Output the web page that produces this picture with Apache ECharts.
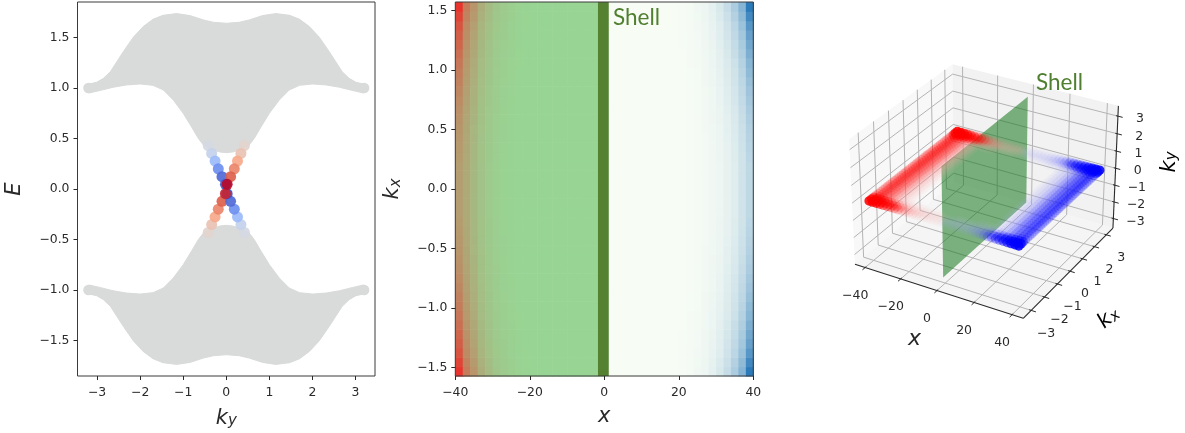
<!DOCTYPE html>
<html><head><meta charset="utf-8">
<style>html,body{margin:0;padding:0;background:#fff}#c{width:1185px;height:433px;filter:blur(.45px)}</style>
<script src="https://cdn.jsdelivr.net/npm/echarts@6/dist/echarts.min.js"></script>
</head><body><div id="c"></div>
<script>
// ---------- panel 1: band structure
const kyTicks = [-3,-2,-1,0,1,2,3];
const eTicks = [-1.5,-1,-0.5,0,0.5,1,1.5];
const upperTopK = [-3.19,-3.01,-2.85,-2.69,-2.54,-2.39,-2.16,-1.93,-1.70,-1.47,-1.15,-0.84,-0.53,-0.30,0,0.30,0.53,0.84,1.15,1.47,1.70,1.93,2.16,2.39,2.54,2.69,2.85,3.01,3.19];
const upperTopE = [1.04,1.057,1.097,1.163,1.262,1.361,1.503,1.609,1.682,1.721,1.738,1.718,1.675,1.652,1.642,1.652,1.675,1.718,1.738,1.721,1.682,1.609,1.503,1.361,1.262,1.163,1.097,1.057,1.04];
const upperLowK = [3.19,2.94,2.63,2.32,2.0,1.70,1.46,1.23,1.0,0.81,0.65,0.53,0.30,0.15,0,-0.15,-0.30,-0.53,-0.65,-0.81,-1.0,-1.23,-1.46,-1.70,-2.0,-2.32,-2.63,-2.94,-3.19];
const upperLowE = [0.951,0.975,1.008,1.031,1.041,1.027,0.981,0.882,0.75,0.618,0.502,0.436,0.387,0.367,0.36,0.367,0.387,0.436,0.502,0.618,0.75,0.882,0.981,1.027,1.041,1.031,1.008,0.975,0.951];
const lowerTopE = [-0.951,-0.975,-1.008,-1.031,-1.041,-1.027,-0.981,-0.882,-0.75,-0.618,-0.502,-0.436,-0.387,-0.367,-0.36,-0.367,-0.387,-0.436,-0.502,-0.618,-0.75,-0.882,-0.981,-1.027,-1.041,-1.031,-1.008,-0.975,-0.951];
const lowerBotE = [-1.04,-1.057,-1.097,-1.163,-1.262,-1.361,-1.503,-1.609,-1.682,-1.721,-1.738,-1.718,-1.675,-1.652,-1.642,-1.652,-1.675,-1.718,-1.738,-1.721,-1.682,-1.609,-1.503,-1.361,-1.262,-1.163,-1.097,-1.057,-1.04];
const bulkDotK = [-3.2,3.2,-3.2,3.2,-0.51,-0.59,-0.67,-0.75,0.51,0.59,0.67,0.75,-0.51,-0.59,-0.67,-0.75,0.51,0.59,0.67,0.75];
const bulkDotE = [1,1,-1,-1,0.507,0.585,0.66,0.74,0.507,0.585,0.66,0.74,-0.507,-0.585,-0.66,-0.74,-0.507,-0.585,-0.66,-0.74];
const edgeK = [-0.42,0.42,-0.34,0.34,-0.42,0.42,-0.34,0.34,-0.26,0.26,-0.26,0.26,-0.186,0.186,-0.186,0.186,-0.10,0.10,-0.10,0.10,-0.02,0.02,-0.02,0.02];
const edgeE = [0.43,0.43,0.353,0.353,-0.43,-0.43,-0.353,-0.353,0.277,0.277,-0.277,-0.277,0.2,0.2,-0.2,-0.2,0.122,0.122,-0.122,-0.122,0.046,-0.046,-0.046,0.046];
const edgeWeight = [0.47,0.53,0.42,0.58,0.53,0.47,0.58,0.42,0.3,0.66,0.66,0.3,0.18,0.75,0.75,0.18,0.08,0.84,0.84,0.08,0.04,0.01,0.94,0.99];

// ---------- panel 2: density map
const xMapTicks = [-40,-20,0,20,40];
const kxMapTicks = [-1.5,-1,-0.5,0,0.5,1,1.5];
const shellSpan = [-1.7,1.2];
const heatLeftEdge = [1,0.55,0.4,0.24,0.16,0.1,0.07,0.04,0.02,0.01];
const heatLeftMid = [0.35,0.27,0.18,0.11,0.07,0.04,0.02,0.01,0,0];
const heatRightEdge = [1,0.56,0.37,0.24,0.15,0.09,0.05,0.03,0.015,0.005];
const heatRightMid = [0.28,0.19,0.12,0.08,0.05,0.03,0.02,0.01,0.005,0];
const rowEdgeMix = [0,0,0,0.02,0.03,0.05,0.07,0.1,0.13,0.17,0.21,0.26,0.31,0.37,0.44,0.52,0.6,0.7,0.85,1];

// ---------- panel 3: 3D density
const xTicks3 = [-40,-20,0,20,40];
const kxTicks3 = [-3,-2,-1,0,1,2,3];
const kyTicks3 = [-3,-2,-1,0,1,2,3];
const xSites = [-40,-38,-36,-34,-32,-30,-28,-26,-24,-22,-20,-18,-16,-14,-12,-10,-8,-6,-4,-2,0,2,4,6,8,10,12,14,16,18,20,22,24,26,28,30,32,34,36,38,40];
const kxSites = [-3.14,-2.98,-2.83,-2.67,-2.51,-2.36,-2.2,-2.04,-1.88,-1.73,-1.57,-1.41,-1.26,-1.1,-0.94,-0.79,-0.63,-0.47,-0.31,-0.16,0,0.16,0.31,0.47,0.63,0.79,0.94,1.1,1.26,1.41,1.57,1.73,1.88,2.04,2.2,2.36,2.51,2.67,2.83,2.98,3.14];
const wallProfile = [0.18,0.17,0.15,0.13,0.1,0.07,0.045,0.025,0.012];
const cornerProfile = [0.85,0.8,0.7,0.55,0.42,0.34,0.27,0.22,0.17,0.13,0.1,0.08,0.065,0.05,0.04,0.035,0.03,0.03,0.025,0.02,0.015];
const cornerRows = [1,0.85,0.55,0.25,0.08];
const shellPlaneKx = [-3.14,3.14];
const shellPlaneKy = [-3.14,3.14];

// ---------- helpers
const FONT = '"DejaVu Sans"';
const INK = '#2a2a2a';
const hex = h => [1,3,5].map(i => parseInt(h.substr(i,2),16));
const mix = (a,b,t) => { const p=hex(a),q=hex(b); return 'rgb('+p.map((v,i)=>Math.round(v+(q[i]-v)*t)).join(',')+')'; };
const coolwarmStops = ['#3b4cc0','#6a8bef','#aac7fd','#dddcdc','#f7a889','#e0654f','#b40426'];
function coolwarm(w){ const s=w*(coolwarmStops.length-1), i=Math.min(Math.floor(s),coolwarmStops.length-2); return mix(coolwarmStops[i],coolwarmStops[i+1],s-i); }
const minusFmt = d => v => (d?Number(v).toFixed(d):String(v)).replace('-','\u2212');
const subRich = {a:{fontFamily:FONT,fontStyle:'italic',fontSize:21,color:INK,lineHeight:26,verticalAlign:'bottom'},
                 b:{fontFamily:FONT,fontStyle:'italic',fontSize:15,color:INK,lineHeight:26,padding:[7,0,0,0],verticalAlign:'bottom'}};

function valueAxis(min,max,ticks,dec,name,gap,margin){
  return {type:'value',min,max,name,nameLocation:'middle',nameGap:gap,nameRotate:null,
    nameTextStyle:{rich:subRich,fontFamily:FONT,fontStyle:'italic',fontSize:21,color:INK},
    splitLine:{show:false},axisLine:{show:false,onZero:false},
    axisTick:{show:true,length:4,customValues:ticks,lineStyle:{color:INK,width:1}},
    axisLabel:{customValues:ticks,formatter:minusFmt(dec),fontFamily:FONT,fontSize:12.4,color:INK,margin}};
}

// ---------- 3D projection (elevation 30, azimuth -60, box 4:4:3)
const lim = {x:[-45.8,45.8],kx:[-3.58,3.58],ky:[-3.58,3.58]};
const box = [1.1429,1.1429,0.8572];
const EL = 30*Math.PI/180, AZ = -60*Math.PI/180, DIST = 10;
const W = [Math.cos(EL)*Math.cos(AZ),Math.cos(EL)*Math.sin(AZ),Math.sin(EL)];
const U = [-W[1],W[0],0].map(v=>v/Math.hypot(W[0],W[1]));
const V = [W[1]*U[2]-W[2]*U[1],W[2]*U[0]-W[0]*U[2],W[0]*U[1]-W[1]*U[0]];
const dot3=(a,b)=>a[0]*b[0]+a[1]*b[1]+a[2]*b[2];
function project(x,kx,ky){
  const p=[((x-lim.x[0])/(lim.x[1]-lim.x[0])-.5)*box[0],((kx-lim.kx[0])/(lim.kx[1]-lim.kx[0])-.5)*box[1],((ky-lim.ky[0])/(lim.ky[1]-lim.ky[0])-.5)*box[2]];
  const depth=DIST-dot3(p,W);
  return [dot3(p,U)/depth,dot3(p,V)/depth];
}

const [x0,x1]=lim.x,[y0,y1]=lim.kx,[z0,z1]=lim.ky;
const panes=[
  {pts:[[x0,y0,z0],[x0,y1,z0],[x0,y1,z1],[x0,y0,z1]],fill:'#f8f8f8'},
  {pts:[[x0,y1,z0],[x1,y1,z0],[x1,y1,z1],[x0,y1,z1]],fill:'#f2f2f2'},
  {pts:[[x0,y0,z0],[x1,y0,z0],[x1,y1,z0],[x0,y1,z0]],fill:'#f5f5f5'}];
const segs3=[];
const GRIDC='#b4b4b4';
xTicks3.forEach(t=>{segs3.push([[t,y0,z0],[t,y1,z0],GRIDC,1],[[t,y1,z0],[t,y1,z1],GRIDC,1]);});
kxTicks3.forEach(t=>{segs3.push([[x0,t,z0],[x1,t,z0],GRIDC,1],[[x0,t,z0],[x0,t,z1],GRIDC,1]);});
kyTicks3.forEach(t=>{segs3.push([[x0,y0,t],[x0,y1,t],GRIDC,1],[[x0,y1,t],[x1,y1,t],GRIDC,1]);});
const axisSegs=[[[x0,y0,z0],[x1,y0,z0],INK,1.1],[[x1,y0,z0],[x1,y1,z0],INK,1.1],[[x1,y1,z0],[x1,y1,z1],INK,1.1]];
xTicks3.forEach(t=>axisSegs.push([[t,y0+.08,z0],[t,y0-.18,z0],INK,1]));
kxTicks3.forEach(t=>axisSegs.push([[x1-1,t,z0],[x1+2.5,t,z0],INK,1]));
kyTicks3.forEach(t=>axisSegs.push([[x1-1,y1,t],[x1+2.5,y1,t],INK,1]));

const labels3=[];
xTicks3.forEach(t=>labels3.push({p:[t,y0,z0],dx:-10,dy:28,text:minusFmt(0)(t)}));
kxTicks3.forEach(t=>labels3.push({p:[x1,t,z0],dx:15,dy:23,text:minusFmt(0)(t)}));
kyTicks3.forEach(t=>labels3.push({p:[x1,y1,t],dx:22,dy:3,text:minusFmt(0)(t)}));

// density points
const pts3=[];
xSites.forEach((x,i)=>{
  const fromWall=Math.min(i,xSites.length-1-i);
  kxSites.forEach((k,j)=>{
    const fromEnd=Math.min(j,kxSites.length-1-j);
    const a=Math.max(wallProfile[fromWall]||0,(cornerProfile[fromWall]||0)*(cornerRows[fromEnd]||0));
    if(a>0.005) pts3.push([x,k,0,a]);
  });
});
pts3.sort((p,q)=>p[3]-q[3]);

// heat cells
const heatCells=[];
for(let r=0;r<40;r++){
  const m=rowEdgeMix[r<20?19-r:r-20];
  for(let c=0;c<40;c++){
    const left=c<20, d=left?c:39-c;
    const top=(left?heatLeftEdge:heatRightEdge)[d]||0, mid=(left?heatLeftMid:heatRightMid)[d]||0;
    heatCells.push([-40+2*c,-40+2*c+2,r,mid+(top-mid)*m,left?0:1]);
  }
}
const kxEdge = r => -Math.PI/2+r*Math.PI/40;

// ---------- series
function polygonSeries(gi,kArr,eTop,kArr2,eLow){
  return {type:'custom',xAxisIndex:gi,yAxisIndex:gi,silent:true,animation:false,clip:false,data:[[0,0]],
    renderItem:(p,api)=>{
      const pts=[]; kArr.forEach((k,i)=>pts.push(api.coord([k,eTop[i]])));
      kArr2.forEach((k,i)=>pts.push(api.coord([k,eLow[i]])));
      return {type:'polygon',shape:{points:pts},style:{fill:'#d9dada',stroke:'#d9dada',lineWidth:1}};
    }};
}
function segSeries(list){
  return {type:'custom',xAxisIndex:2,yAxisIndex:2,silent:true,animation:false,clip:false,data:list.map((_,i)=>[i]),
   encode:{x:[],y:[]},
   renderItem:(p,api)=>{
     const s=list[p.dataIndex],a=api.coord(project(...s[0])),b=api.coord(project(...s[1]));
     return {type:'line',shape:{x1:a[0],y1:a[1],x2:b[0],y2:b[1]},style:{stroke:s[2],lineWidth:s[3]}};
   }};
}
const series=[
  polygonSeries(0,upperTopK,upperTopE,upperLowK,upperLowE),
  polygonSeries(0,upperLowK,lowerTopE,upperTopK,lowerBotE),
  {type:'scatter',xAxisIndex:0,yAxisIndex:0,silent:true,animation:false,symbolSize:10.5,
   data:bulkDotK.map((k,i)=>[k,bulkDotE[i]]),itemStyle:{color:'#d9dada',opacity:1}},
  {type:'scatter',xAxisIndex:0,yAxisIndex:0,silent:true,animation:false,symbolSize:11,
   data:edgeK.map((k,i)=>[k,edgeE[i],edgeWeight[i]]),
   itemStyle:{opacity:0.93,color:p=>coolwarm(p.data[2])}},
  // heat map
  {type:'custom',xAxisIndex:1,yAxisIndex:1,silent:true,animation:false,data:heatCells,
   encode:{x:[0,1],y:2},
   renderItem:(p,api)=>{
     const [xa,xb,r,w,side]=heatCells[p.dataIndex];
     const a=api.coord([xa,kxEdge(r)]),b=api.coord([xb,kxEdge(r+1)]);
     const fill=side?mix('#f7fcf5','#2b7bba',w):mix('#98d594','#e8342c',w);
     return {type:'rect',shape:{x:a[0],y:b[1],width:b[0]-a[0]+.6,height:a[1]-b[1]+.6},style:{fill}};
   }},
  {type:'custom',xAxisIndex:1,yAxisIndex:1,silent:true,animation:false,data:[[0,0]],
   renderItem:(p,api)=>{
     const a=api.coord([shellSpan[0],-Math.PI/2]),b=api.coord([shellSpan[1],Math.PI/2]);
     return {type:'rect',shape:{x:a[0],y:b[1],width:b[0]-a[0],height:a[1]-b[1]},style:{fill:'#558231'}};
   }},
  // 3D panes
  {type:'custom',xAxisIndex:2,yAxisIndex:2,silent:true,animation:false,clip:false,data:panes.map((_,i)=>[i]),
   encode:{x:[],y:[]},
   renderItem:(p,api)=>{const q=panes[p.dataIndex];
     return {type:'polygon',shape:{points:q.pts.map(a=>api.coord(project(...a)))},style:{fill:q.fill}};}},
  segSeries(segs3),
  {type:'custom',xAxisIndex:2,yAxisIndex:2,silent:true,animation:false,clip:false,data:[[0]],
   encode:{x:[],y:[]},
   renderItem:(p,api)=>{
     const [a,b]=shellPlaneKx,[c,d]=shellPlaneKy;
     return {type:'polygon',shape:{points:[[0,a,c],[0,b,c],[0,b,d],[0,a,d]].map(q=>api.coord(project(...q)))},style:{fill:'rgba(20,118,28,0.55)'}};
   }},
  {type:'custom',xAxisIndex:2,yAxisIndex:2,silent:true,animation:false,clip:false,data:pts3.map((_,i)=>[i]),
   encode:{x:[],y:[]},
   renderItem:(p,api)=>{
     const q=pts3[p.dataIndex],c=api.coord(project(q[0],q[1],q[2]));
     const base=q[0]<0?'#ff0000':'#0000ff';
     const sat=Math.min(1,0.2+q[3]*4);
     return {type:'circle',shape:{cx:c[0],cy:c[1],r:4.8},style:{fill:mix('#ffffff',base,sat),opacity:Math.min(1,q[3]+0.03)}};
   }},
  segSeries(axisSegs),
  {type:'custom',xAxisIndex:2,yAxisIndex:2,silent:true,animation:false,clip:false,data:labels3.map((_,i)=>[i]),
   encode:{x:[],y:[]},
   renderItem:(p,api)=>{
     const l=labels3[p.dataIndex],c=api.coord(project(...l.p));
     return {type:'text',x:c[0]+l.dx,y:c[1]+l.dy,style:{text:l.text,fontFamily:FONT,fontSize:12.5,fill:INK,align:'center',verticalAlign:'middle'}};
   }}
];

const hiddenAxis = (min,max)=>({type:'value',min,max,show:false,splitLine:{show:false}});
const frame={show:true,borderColor:'#3a3a3a',borderWidth:1,backgroundColor:'transparent',outerBoundsMode:'none',containLabel:false};
const xA0=valueAxis(-3.454,3.452,kyTicks,0,'{a|k}{b|y}',27,11);
const yA0=valueAxis(-1.853,1.853,eTicks,1,'{a|E}',52,8);
const xA1=valueAxis(-40,40,xMapTicks,0,'{a|x}',25,11);
const yA1=valueAxis(-Math.PI/2,Math.PI/2,kxMapTicks,1,'{a|k}{b|x}',52,8);
const SHELL={text:'Shell',fontFamily:'Lato',fontSize:22.5,fill:'#4f7f2f'};
const opt={
  animation:false,backgroundColor:'#fff',
  grid:[
    {left:77.5,top:2,width:297.5,height:374,...frame},
    {left:455.3,top:2,width:298,height:374,...frame,z:3},
    {left:834.4,top:35.5,width:303.7,height:299.7,show:false,outerBoundsMode:'none'}
  ],
  xAxis:[{...xA0,gridIndex:0},{...xA1,gridIndex:1,z:5},{...hiddenAxis(-0.09,0.09),gridIndex:2}],
  yAxis:[{...yA0,gridIndex:0},{...yA1,gridIndex:1,z:5},{...hiddenAxis(-0.09,0.09),gridIndex:2}],
  graphic:[
    {type:'text',left:613,top:6,z:100,style:SHELL},
    {type:'text',left:1036,top:71,z:100,style:SHELL},
    {type:'text',left:908,top:328,z:100,style:{text:'x',fontFamily:FONT,fontStyle:'italic',fontSize:22,fill:INK}},
    {type:'text',x:1107,y:316,rotation:0.72,z:100,style:{text:'{a|k}{b|x}',rich:subRich,align:'center',verticalAlign:'middle'}},
    {type:'text',x:1167,y:162,rotation:Math.PI/2,z:100,style:{text:'{a|k}{b|y}',rich:subRich,align:'center',verticalAlign:'middle'}}
  ],
  series
};
echarts.init(document.getElementById('c'),null,{renderer:'canvas'}).setOption(opt);
</script></body></html>
